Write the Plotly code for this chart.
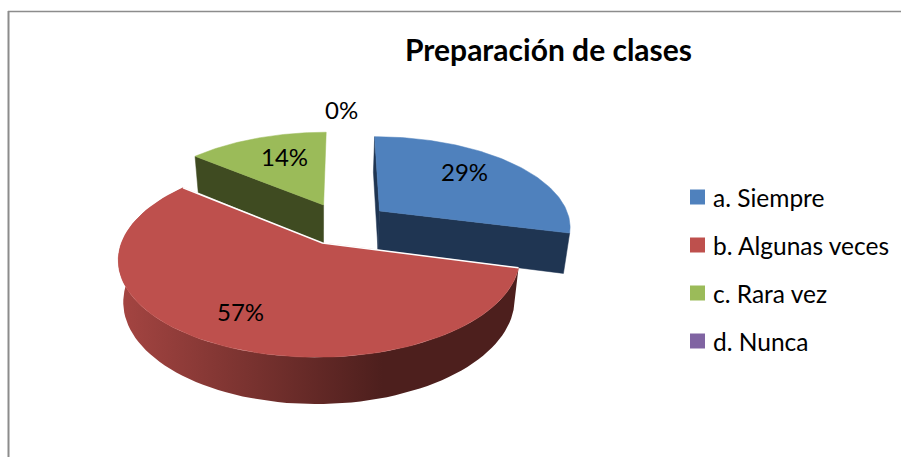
import numpy as np
import plotly.graph_objects as go

categories = ["a. Siempre", "b. Algunas veces", "c. Rara vez", "d. Nunca"]
percentages = [29, 57, 14, 0]
title_text = "Preparación de clases"

TOP = ["#4f81bd", "#be504d", "#9bbb59", "#8064a2"]
WALL = ["#1f3552", "#4d1f1d", "#3f4b21", "#3b2e4b"]
FONT = "Lato"
TXT = "#000000"

# pie geometry (styling): perspective projection of an exploded disc
CX, CY, B, K, R, SHEAR = 320.0, 225.0, 90.0, 0.157, 192.0, -3.0
OFFSET = [(60.5, -0.16), (0.0, 0.194), (3.0, -0.23), (3.0, -0.23)]
APEX_DX = [0.0, 3.0, 0.0, 0.0]


def top_pt(X, u):
    s = 1.0 / (1.0 - K * u)
    return CX + X * s + SHEAR * u, CY + B * u * s


def base_pt(X, u):
    s = 1.0 / (1.0 - K * u)
    d = 39.0 + (s - 0.97) * 30.0
    return CX + 0.975 * X * s + SHEAR * u, CY + B * u * s + d


def arc(i, a0, a1, fn, n=90):
    t = np.radians(np.linspace(a0, a1, n))
    ox, ou = OFFSET[i]
    xs, ys = zip(*(fn(ox + R * np.sin(a), ou - np.cos(a)) for a in t))
    return list(xs), list(ys)


def apex(i, fn):
    x, y = fn(*OFFSET[i])
    return x + APEX_DX[i], y


def poly(xs, ys, color, **kw):
    return go.Scatter(x=xs, y=ys, mode="lines", fill="toself", fillcolor=color,
                      line=dict(color=color, width=0.5), hoverinfo="skip",
                      showlegend=False, **kw)


total = sum(percentages)
angles = np.cumsum([0] + percentages) / total * 360.0
fig = go.Figure()


def cut_wall(i, ang):
    ox, ou = OFFSET[i]
    a = np.radians(ang)
    p0, p1 = apex(i, top_pt), top_pt(ox + R * np.sin(a), ou - np.cos(a))
    q0, q1 = apex(i, base_pt), base_pt(ox + R * np.sin(a), ou - np.cos(a))
    return poly([p0[0], p1[0], q1[0], q0[0], p0[0]], [p0[1], p1[1], q1[1], q0[1], p0[1]], WALL[i])


def top_face(i):
    xs, ys = arc(i, angles[i], angles[i + 1], top_pt)
    a = apex(i, top_pt)
    return poly([a[0]] + xs + [a[0]], [a[1]] + ys + [a[1]], TOP[i])


# green (back), blue, then red in front
fig.add_trace(cut_wall(2, angles[2]))
fig.add_trace(top_face(2))
fig.add_trace(cut_wall(0, angles[0]))
fig.add_trace(cut_wall(0, angles[1]))
fig.add_trace(top_face(0))

xt, yt = arc(1, angles[1], angles[2], top_pt)
xb, yb = arc(1, angles[1], angles[2], base_pt)
fig.add_trace(go.Scatter(
    x=xt + xb[::-1] + [xt[0]], y=yt + yb[::-1] + [yt[0]], mode="lines", fill="toself",
    line=dict(width=0), hoverinfo="skip", showlegend=False,
    fillgradient=dict(type="horizontal", colorscale=[
        [0.0, "#a54542"], [0.3, "#7d3431"], [0.66, "#4d1f1d"], [1.0, "#4d1f1d"]]),
))
fig.add_trace(top_face(1))
# thin white seam along the red slice's cut edges
a_ = apex(1, top_pt)
xe = [xt[0], a_[0], xt[-1]]
ye = [yt[0], a_[1], yt[-1]]
fig.add_trace(go.Scatter(x=xe, y=ye, mode="lines", line=dict(color="#ffffff", width=1.5),
                         hoverinfo="skip", showlegend=False))

# legend
LEG_X, LEG_TEXT_X, LEG_Y, LEG_STEP = 697.5, 711.0, 197.0, 48.0
annots = []
for i, name in enumerate(categories):
    fig.add_trace(go.Scatter(
        x=[LEG_X], y=[LEG_Y + i * LEG_STEP], mode="markers",
        marker=dict(symbol="square", size=15, color=TOP[i], line=dict(width=0)),
        hoverinfo="skip", showlegend=False, cliponaxis=False,
    ))
    annots.append(dict(x=LEG_TEXT_X, y=LEG_Y + i * LEG_STEP, xref="x", yref="y", text=name,
                       xanchor="left", showarrow=False,
                       font=dict(family=FONT, size=24.5, color=TXT)))

LABEL_POS = [(464, 171.5), (240, 311.5), (284, 156.5), (341, 109.5)]
annots += [dict(x=x, y=y, xref="x", yref="y", text=f"{v}%", showarrow=False,
                font=dict(family=FONT, size=24, color=TXT))
           for (x, y), v in zip(LABEL_POS, percentages)]
annots.append(dict(x=548.5, y=49, xref="x", yref="y", text=f"<b>{title_text}</b>", showarrow=False,
                   font=dict(family=FONT, size=30, color=TXT)))

shapes = [
    dict(type="line", x0=8.5, x1=8.5, y0=11, y1=457, line=dict(color="#8c8c8c", width=2)),
    dict(type="line", x0=8, x1=901, y0=11.5, y1=11.5, line=dict(color="#8c8c8c", width=1.5)),
]

fig.update_layout(
    width=901, height=457, margin=dict(l=0, r=0, t=0, b=0),
    paper_bgcolor="white", plot_bgcolor="white",
    xaxis=dict(range=[0, 901], visible=False, fixedrange=True),
    yaxis=dict(range=[457, 0], visible=False, fixedrange=True),
    annotations=annots, shapes=shapes, showlegend=False,
)
fig.write_html("out.html", config=dict(displayModeBar=False),
               post_script="document.body.style.margin='0';document.documentElement.style.overflow='hidden';")
